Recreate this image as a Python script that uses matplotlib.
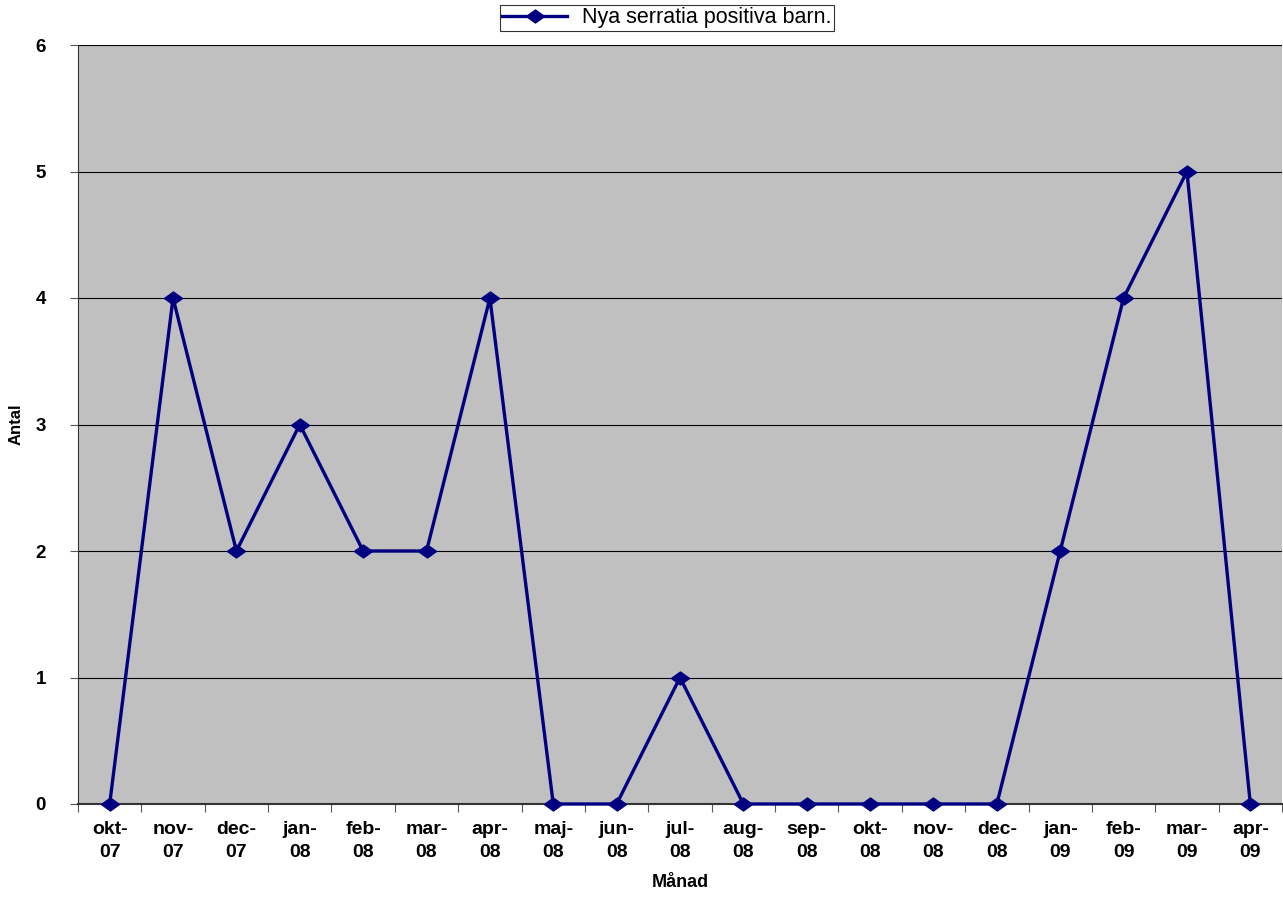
import matplotlib
matplotlib.use("Agg")
import matplotlib.pyplot as plt
from matplotlib.path import Path
import numpy as np

plt.rcParams['font.family'] = ['Liberation Sans', 'DejaVu Sans']

months = ["okt-\n07", "nov-\n07", "dec-\n07", "jan-\n08", "feb-\n08", "mar-\n08", "apr-\n08",
          "maj-\n08", "jun-\n08", "jul-\n08", "aug-\n08", "sep-\n08", "okt-\n08", "nov-\n08",
          "dec-\n08", "jan-\n09", "feb-\n09", "mar-\n09", "apr-\n09"]
values = [0, 4, 2, 3, 2, 2, 4, 0, 0, 1, 0, 0, 0, 0, 0, 2, 4, 5, 0]
series_name = "Nya serratia positiva barn."

# wide diamond marker (wider than tall, as in the reference)
diamond = Path([(-1.0, 0.0), (0.0, 0.72), (1.0, 0.0), (0.0, -0.72), (-1.0, 0.0)],
               [Path.MOVETO, Path.LINETO, Path.LINETO, Path.LINETO, Path.CLOSEPOLY])

fig = plt.figure(figsize=(12.83, 8.98), dpi=100)
ax = fig.add_axes([78/1283, 94/898, 1204/1283, 759/898])
ax.set_facecolor('#c0c0c0')

x = np.arange(len(values))
ax.plot(x, values, color='#000080', lw=2.4, marker=diamond, ms=13, label=series_name,
        zorder=3, clip_on=False)

ax.set_xlim(-0.5, len(values) - 0.5)
ax.set_ylim(0, 6)
ax.set_yticks(range(0, 7))
ax.yaxis.grid(True, color='black', lw=0.8)
ax.set_axisbelow(True)

ax.set_xticks(np.arange(-0.5, len(values), 1.0))
ax.set_xticklabels([])
ax.set_xticks(x, minor=True)
ax.set_xticklabels(months, minor=True, fontsize=14, fontweight='bold', linespacing=1.45)
ax.tick_params(axis='x', which='minor', length=0, pad=12)
ax.tick_params(axis='x', which='major', length=6, direction='out', color='#555555')
ax.tick_params(axis='y', length=6, direction='out', labelsize=13.5, pad=17, color='#555555')
for lbl in ax.get_yticklabels():
    lbl.set_fontweight('bold')

for s in ['top', 'right']:
    ax.spines[s].set_visible(False)
ax.spines['left'].set_color('#333333')
ax.spines['bottom'].set_color('#333333')
ax.spines['bottom'].set_linewidth(1.5)

ax.set_ylabel("Antal", fontsize=12, fontweight='bold')
ax.yaxis.set_label_coords(-0.045, 0.5)
ax.set_xlabel("Månad", fontsize=13, fontweight='bold')
ax.xaxis.set_label_coords(0.5, -0.092)

leg = fig.legend(loc='center', bbox_to_anchor=(667/1283, 1 - 18/898), frameon=True,
                 fancybox=False, edgecolor='black', fontsize=15.5, handlelength=3.0,
                 borderpad=0.12, handletextpad=0.7, borderaxespad=0)
leg.get_frame().set_linewidth(0.8)

fig.savefig("out.png", dpi=100)
